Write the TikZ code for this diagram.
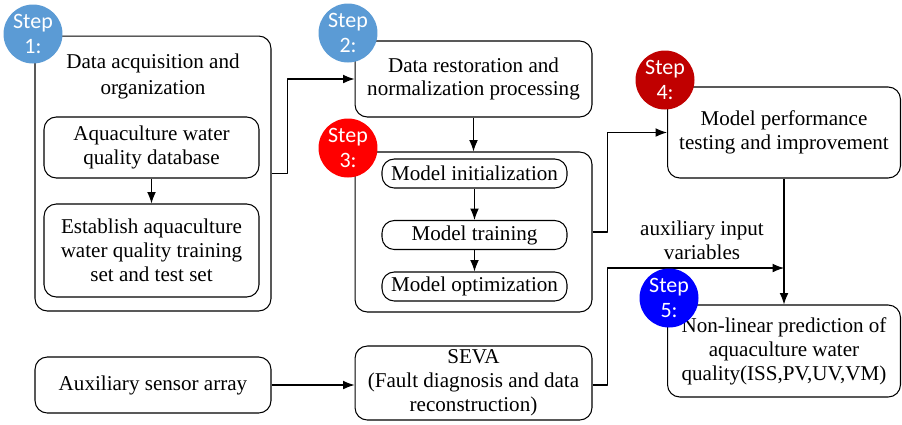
\documentclass[tikz,border=0pt]{standalone}
\usepackage{fontspec}
\setmainfont{Liberation Serif}
\newfontfamily\boxfont{Liberation Serif}
\newfontfamily\stepfont{Carlito}
\usetikzlibrary{arrows.meta}
\definecolor{lightblue}{RGB}{91,155,213}
\definecolor{darkred}{RGB}{192,0,0}
\definecolor{pureblue}{RGB}{0,0,255}
\begin{document}
\begin{tikzpicture}[>={Latex[length=6.5pt,width=5pt]},line join=round,x=0.02cm,y=-0.02cm,
	font=\boxfont\fontsize{12}{13.6}\selectfont,
	box/.style={draw,line width=0.6pt,rounded corners=7pt,align=center,inner sep=0pt},
	stepdot/.style={circle,fill=#1,text=white,minimum size=1.18cm,inner sep=0pt,align=center,
		font=\stepfont\fontsize{12.5}{14.5}\selectfont},
	link/.style={->,line width=0.6pt}]
	\useasboundingbox (0,0) rectangle (902,424);
	% step 1
	\node[box,minimum width=4.72cm,minimum height=5.5cm] (acq) at (153,173.5) {};
	\node[align=center,font=\boxfont\fontsize{12}{14.8}\selectfont] (acqtitle) at (153,76) {Data acquisition and\\organization};
	\node[box,minimum width=4.3cm,minimum height=1.22cm] (db) at (151.5,147.5) {Aquaculture water\\quality database};
	\node[box,minimum width=4.3cm,minimum height=1.86cm] (sets) at (151.5,250.5) {Establish aquaculture\\water quality training\\set and test set};
	% step 2
	\node[box,minimum width=4.74cm,minimum height=1.52cm] (restore) at (473.5,79) {Data restoration and\\normalization processing};
	% step 3
	\node[box,minimum width=4.74cm,minimum height=3.2cm] (model) at (473.5,232) {};
	\node[box,minimum width=3.7cm,minimum height=0.58cm] (init) at (474.5,173.5) {Model initialization};
	\node[box,minimum width=3.7cm,minimum height=0.58cm] (train) at (474.5,235) {Model training};
	\node[box,minimum width=3.7cm,minimum height=0.58cm] (optim) at (474.5,286.5) {Model optimization};
	% step 4 and 5
	\node[box,minimum width=4.66cm,minimum height=1.82cm] (test) at (784,132.5) {Model performance\\testing and improvement};
	\node[box,minimum width=4.66cm,minimum height=1.84cm] (pred) at (784,351) {Non-linear prediction of\\aquaculture water\\quality(ISS,PV,UV,VM)};
	% sensors
	\node[box,minimum width=4.72cm,minimum height=1.12cm] (sensor) at (153,385) {Auxiliary sensor array};
	\node[box,minimum width=4.74cm,minimum height=1.48cm] (seva) at (473.5,383) {SEVA\\(Fault diagnosis and data\\reconstruction)};
	\node[align=center] (auxlabel) at (702,240) {auxiliary input\\variables};
	\coordinate (join) at (784,268);
	% connectors
	\draw[link] (db) -- (sets);
	\draw[link] (acq.east) -- ++(16,0) |- (restore.west);
	\draw[link] (restore) -- (model);
	\draw[link] (init) -- (train);
	\draw[link] (train) -- (optim);
	\draw[link] (model.east) -- ++(15,0) |- (test.west);
	\draw[link] (test) -- (pred);
	\draw[link] (sensor.east) -- (sensor.east -| seva.west);
	\draw[link] (seva.east |- sensor.east) -- ++(15,0) |- (join);
	% step marks
	\node[stepdot=lightblue] (s1) at (33,34) {Step\\1:};
	\node[stepdot=lightblue] (s2) at (348,33) {Step\\2:};
	\node[stepdot=red] (s3) at (348,148) {Step\\3:};
	\node[stepdot=darkred] (s4) at (665,80) {Step\\4:};
	\node[stepdot=pureblue] (s5) at (669,298) {Step\\5:};
\end{tikzpicture}
\end{document}
